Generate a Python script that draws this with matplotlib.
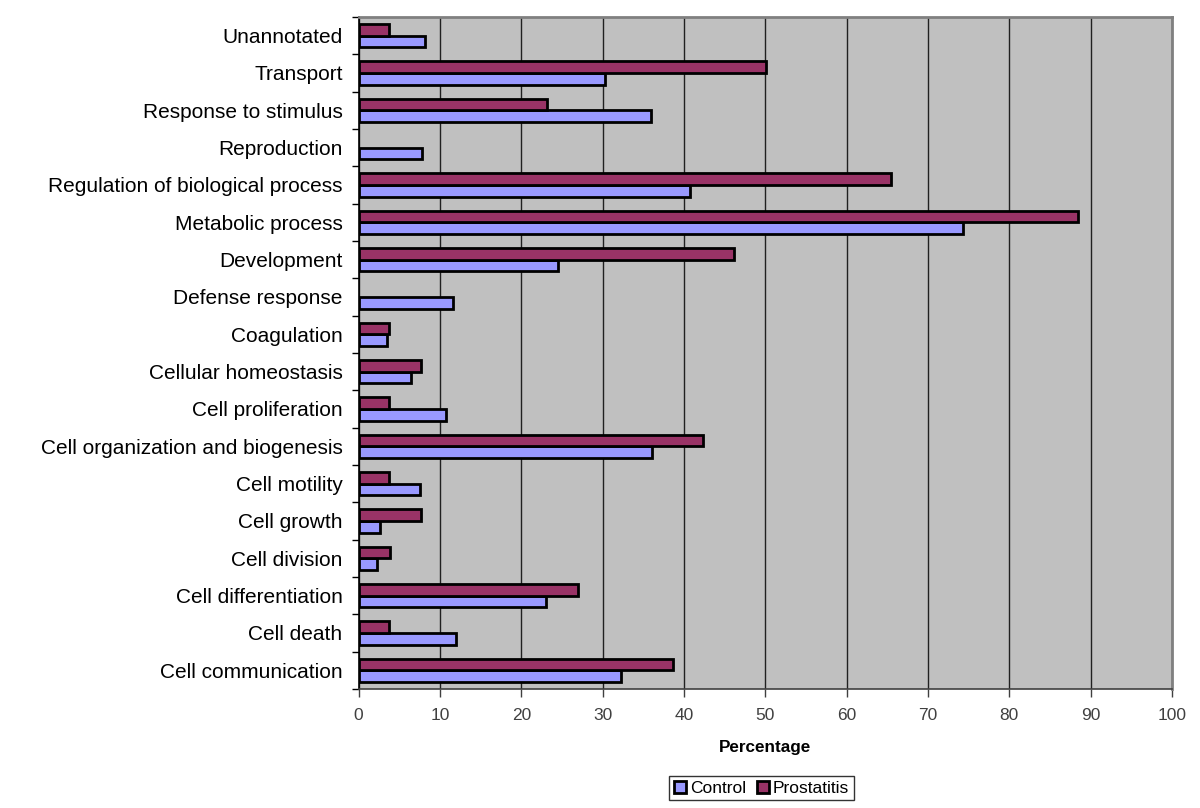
import numpy as np
import matplotlib
matplotlib.use("Agg")
from matplotlib import pyplot as plt

plt.rcParams['font.family'] = ['Liberation Sans', 'DejaVu Sans']

# categories listed from bottom to top
categories = [
    "Cell communication", "Cell death", "Cell differentiation", "Cell division",
    "Cell growth", "Cell motility", "Cell organization and biogenesis",
    "Cell proliferation", "Cellular homeostasis", "Coagulation",
    "Defense response", "Development", "Metabolic process",
    "Regulation of biological process", "Reproduction",
    "Response to stimulus", "Transport", "Unannotated",
]
control = [32.2, 12.0, 23.0, 2.3, 2.6, 7.6, 36.1, 10.7, 6.4, 3.5,
           11.6, 24.5, 74.3, 40.7, 7.8, 35.9, 30.3, 8.2]
prostatitis = [38.6, 3.8, 27.0, 3.9, 7.7, 3.8, 42.4, 3.8, 7.7, 3.8,
               0.0, 46.2, 88.5, 65.4, 0.0, 23.2, 50.1, 3.8]
xticks = [0, 10, 20, 30, 40, 50, 60, 70, 80, 90, 100]

fig = plt.figure(figsize=(12, 8.08), dpi=100)
ax = fig.add_axes([0.2988, 0.1473, 0.6779, 0.8317])
ax.set_facecolor('#C0C0C0')

y = np.arange(len(categories))
h = 0.31
# no outline for empty bars
lw_c = [2 if v > 0 else 0 for v in control]
lw_p = [2 if v > 0 else 0 for v in prostatitis]
ax.barh(y - h / 2, control, height=h, color='#9999FF', edgecolor='black',
        linewidth=lw_c, label='Control', zorder=3)
ax.barh(y + h / 2, prostatitis, height=h, color='#993366', edgecolor='black',
        linewidth=lw_p, label='Prostatitis', zorder=3)

ax.set_xlim(0, 100)
ax.set_ylim(-0.5, len(categories) - 0.5)
ax.set_xticks(xticks)
ax.set_xticklabels([str(t) for t in xticks], color='#404040', fontsize=12.5)
ax.set_yticks(y)
ax.set_yticklabels(categories, fontsize=15)
ax.tick_params(axis='y', length=0, pad=11.5)
ax.set_yticks(np.arange(len(categories) + 1) - 0.5, minor=True)
ax.tick_params(axis='y', which='minor', length=5, width=1, direction='out')
ax.tick_params(axis='x', length=6, width=1, direction='out', color='#404040', pad=8)

ax.grid(axis='x', color='#202020', linewidth=1, zorder=1)
for side in ['top', 'right']:
    ax.spines[side].set_color('#808080')
    ax.spines[side].set_linewidth(2)
ax.spines['left'].set_color('black')
ax.spines['left'].set_linewidth(1.2)
ax.spines['bottom'].set_color('#404040')
ax.spines['bottom'].set_linewidth(1.2)

ax.set_xlabel('Percentage', fontsize=12.3, fontweight='bold', labelpad=12)

leg = fig.legend(loc='center', bbox_to_anchor=(0.6345, 0.0245), ncol=2,
                 fontsize=12.5, frameon=True, fancybox=False, edgecolor='black',
                 handlelength=0.7, handleheight=0.7, handletextpad=0.25,
                 columnspacing=0.6, borderpad=0.25, borderaxespad=0)
leg.get_frame().set_linewidth(1)
for patch in leg.get_patches():
    patch.set_linewidth(2)

fig.savefig('out.png', dpi=100)
